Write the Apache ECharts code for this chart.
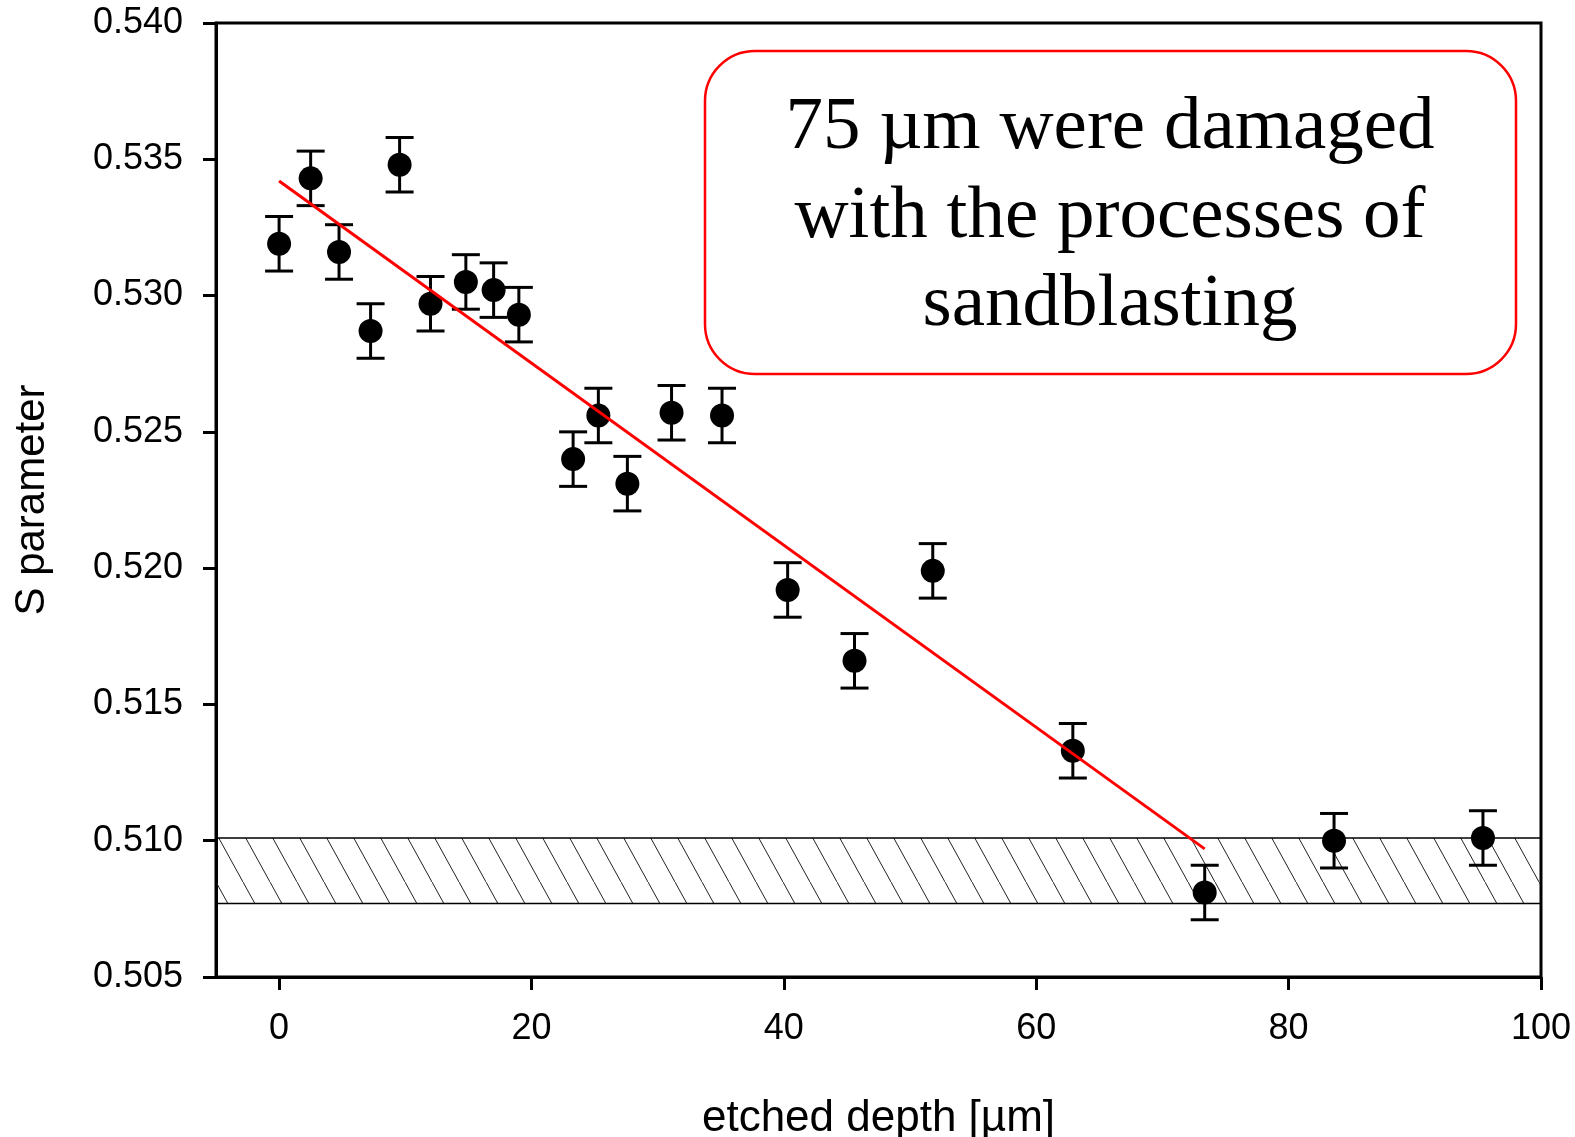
<!DOCTYPE html>
<html>
<head>
<meta charset="utf-8">
<script src="https://cdn.jsdelivr.net/npm/echarts@6/dist/echarts.min.js"></script>
<style>
  html, body { margin: 0; padding: 0; background: #fff; }
  #chart { width: 1575px; height: 1137px; }
</style>
</head>
<body>
<div id="chart"></div>
<script>
// measured points (etched depth in µm, S parameter, error)
const depth = [0, 2.5, 4.75, 7.25, 9.55, 12.0, 14.8, 17.0, 19.0, 23.3, 25.3, 27.6, 31.1, 35.1, 40.3, 45.6, 51.8, 62.9, 73.35, 83.6, 95.4]
const sParam = [0.5319, 0.5343, 0.5316, 0.5287, 0.5348, 0.5297, 0.5305, 0.5302, 0.5293, 0.5240, 0.5256, 0.5231, 0.5257, 0.5256, 0.5192, 0.5166, 0.5199, 0.5133, 0.5081, 0.5100, 0.5101]
const sErr = [0.001, 0.001, 0.001, 0.001, 0.001, 0.001, 0.001, 0.001, 0.001, 0.001, 0.001, 0.001, 0.001, 0.001, 0.001, 0.001, 0.001, 0.001, 0.001, 0.001, 0.001]

// linear fit end points
const fitX = [0, 73.35]
const fitY = [0.5342, 0.5097]

// bulk (undamaged) band
const bandY = [0.5077, 0.5101]

const xTicks = [0, 20, 40, 60, 80, 100]
const noteLines = ['75 µm were damaged', 'with the processes of', 'sandblasting']

const points = depth.map((x, i) => [x, sParam[i]])
const errData = depth.map((x, i) => [x, sParam[i] - sErr[i], sParam[i] + sErr[i]])
const fitData = fitX.map((x, i) => [x, fitY[i]])

// hatch tile for the band
const hatch = document.createElement('canvas')
hatch.width = 27
hatch.height = 49
const hctx = hatch.getContext('2d')
hctx.strokeStyle = '#222'
hctx.lineWidth = 1
hctx.beginPath()
hctx.moveTo(-2, -49 / 27 * 2)
hctx.lineTo(29, 49 + 49 / 27 * 2)
hctx.stroke()

const chart = echarts.init(document.getElementById('chart'))

const axisFont = 'Liberation Sans, Arial, sans-serif'

const option = {
  backgroundColor: '#fff',
  animation: false,
  grid: {
    left: 216,
    right: 34,
    top: 23,
    bottom: 160,
    outerBoundsMode: 'none',
    containLabel: false,
    show: true,
    borderColor: '#000',
    borderWidth: 3
  },
  xAxis: {
    type: 'value',
    min: -5,
    max: 100,
    name: 'etched depth [µm]',
    nameLocation: 'middle',
    nameGap: 120,
    nameTextStyle: { fontFamily: axisFont, fontSize: 44, color: '#000' },
    splitLine: { show: false },
    axisLine: { show: true, onZero: false, lineStyle: { color: '#000', width: 3 } },
    axisTick: { show: true, length: 13, lineStyle: { color: '#000', width: 3 }, customValues: xTicks },
    axisLabel: { fontFamily: axisFont, fontSize: 36, color: '#000', margin: 34, customValues: xTicks }
  },
  yAxis: {
    type: 'value',
    min: 0.505,
    max: 0.540,
    interval: 0.005,
    name: 'S parameter',
    nameLocation: 'middle',
    nameGap: 163,
    nameTextStyle: { fontFamily: axisFont, fontSize: 42, color: '#000' },
    splitLine: { show: false },
    axisLine: { show: true, onZero: false, lineStyle: { color: '#000', width: 3 } },
    axisTick: { show: true, length: 13, lineStyle: { color: '#000', width: 3 } },
    axisLabel: {
      fontFamily: axisFont,
      fontSize: 36,
      color: '#000',
      margin: 33,
      formatter: v => v.toFixed(3)
    }
  },
  series: [
    {
      type: 'custom',
      name: 'error',
      z: 3,
      silent: true,
      data: errData,
      renderItem: (params, api) => {
        const top = api.coord([api.value(0), api.value(2)])
        const bot = api.coord([api.value(0), api.value(1)])
        const hw = 14
        const style = { stroke: '#000', lineWidth: 3 }
        return {
          type: 'group',
          children: [
            { type: 'line', shape: { x1: top[0], y1: top[1], x2: bot[0], y2: bot[1] }, style },
            { type: 'line', shape: { x1: top[0] - hw, y1: top[1], x2: top[0] + hw, y2: top[1] }, style },
            { type: 'line', shape: { x1: bot[0] - hw, y1: bot[1], x2: bot[0] + hw, y2: bot[1] }, style }
          ]
        }
      },
      markArea: {
        silent: true,
        itemStyle: {
          color: { image: hatch, repeat: 'repeat' },
          borderColor: '#000',
          borderWidth: 1.5
        },
        data: [[{ yAxis: bandY[0], xAxis: -5 }, { yAxis: bandY[1], xAxis: 100 }]]
      }
    },
    {
      type: 'scatter',
      name: 'S',
      z: 4,
      symbol: 'circle',
      symbolSize: 24,
      itemStyle: { color: '#000', opacity: 1 },
      data: points
    },
    {
      type: 'line',
      name: 'fit',
      z: 5,
      showSymbol: false,
      symbol: 'none',
      lineStyle: { color: '#ff0000', width: 3 },
      data: fitData
    }
  ],
  graphic: [
    {
      type: 'rect',
      z: 10,
      shape: { x: 705, y: 51, width: 811, height: 323, r: 50 },
      style: { fill: '#fff', stroke: '#ff0000', lineWidth: 2.5 }
    },
    {
      type: 'text',
      z: 11,
      x: 1110,
      y: 217,
      style: {
        text: noteLines.join('\n'),
        font: '75px "Liberation Serif", "Times New Roman", serif',
        fill: '#000',
        align: 'center',
        verticalAlign: 'middle',
        lineHeight: 88.5
      }
    }
  ]
}

chart.setOption(option)
</script>
</body>
</html>
